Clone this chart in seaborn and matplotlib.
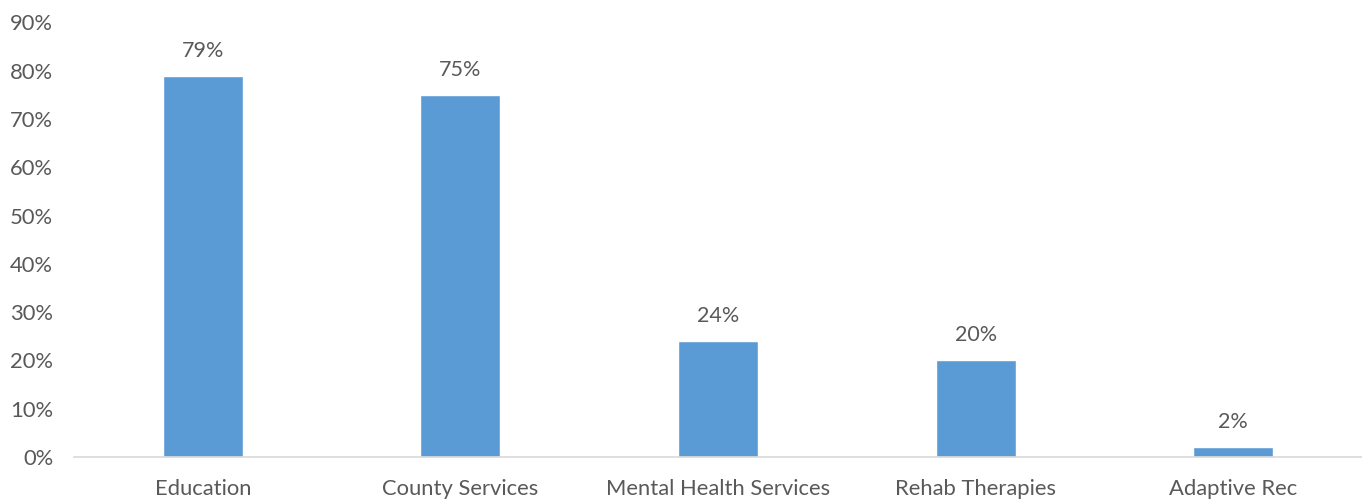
import matplotlib
matplotlib.use("Agg")
import matplotlib.pyplot as plt
import seaborn as sns
import pandas as pd

categories = ["Education", "County Services", "Mental Health Services", "Rehab Therapies", "Adaptive Rec"]
values = [79, 75, 24, 20, 2]
y_ticks = [0, 10, 20, 30, 40, 50, 60, 70, 80, 90]

sns.set_theme(style="white")
plt.rcParams["font.family"] = ["Lato", "DejaVu Sans"]

text_color = "#595959"
bar_color = "#5B9BD5"

df = pd.DataFrame({"category": categories, "value": values})

fig = plt.figure(figsize=(13.62, 4.99), dpi=100)
ax = fig.add_axes([74 / 1362, 1 - 457 / 499, (1362 - 74) / 1362, (457 - 22.5) / 499])

sns.barplot(data=df, x="category", y="value", color=bar_color, width=0.31,
            saturation=1, ax=ax)

for i, v in enumerate(values):
    ax.text(i, v + 5.2, f"{v}%", ha="center", va="center", fontsize=15.5, color=text_color)

ax.set_ylim(0, 90)
ax.set_xlim(-0.5, len(categories) - 0.5)
ax.set_yticks(y_ticks)
ax.set_yticklabels([f"{t}%" for t in y_ticks])
ax.set_xlabel("")
ax.set_ylabel("")
ax.tick_params(axis="both", length=0, labelsize=15.8, colors=text_color)
ax.tick_params(axis="y", pad=15)
ax.tick_params(axis="x", pad=15.5)

for side in ["top", "right", "left"]:
    ax.spines[side].set_visible(False)
ax.spines["bottom"].set_color("#D9D9D9")
ax.spines["bottom"].set_linewidth(1.2)
ax.grid(False)

fig.savefig("out.png", dpi=100)
